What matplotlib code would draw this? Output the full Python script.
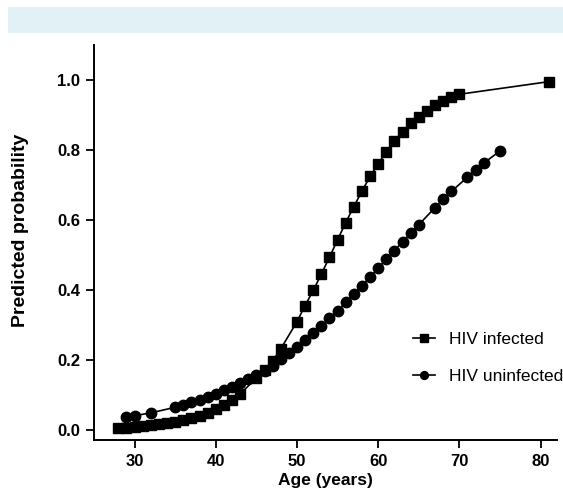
import matplotlib
matplotlib.use("Agg")
import matplotlib.pyplot as plt
from matplotlib.patches import Rectangle

plt.rcParams.update({
    "font.family": ["Liberation Sans", "DejaVu Sans"],
    "font.size": 11,
    "axes.linewidth": 1.4,
})

# HIV infected (squares)
AGE_INF = [28, 29, 30, 31, 32, 33, 34, 35, 36, 37, 38, 39, 40, 41, 42, 43,
           45, 46, 47, 48, 50, 51, 52, 53, 54, 55, 56, 57, 58, 59, 60,
           61, 62, 63, 64, 65, 66, 67, 68, 69, 70, 81]
P_INF = [0.005, 0.006, 0.008, 0.010, 0.012, 0.015, 0.018, 0.022, 0.027, 0.033,
         0.040, 0.049, 0.059, 0.071, 0.086, 0.102,
         0.148, 0.171, 0.197, 0.231, 0.309, 0.355, 0.398, 0.445, 0.493, 0.543,
         0.592, 0.638, 0.682, 0.724, 0.760, 0.795, 0.826, 0.852, 0.876, 0.895,
         0.912, 0.929, 0.940, 0.951, 0.959, 0.995]

# HIV uninfected (circles)
AGE_UNINF = [29, 30, 32, 35, 36, 37, 38, 39, 40, 41, 42, 43, 44, 45, 46, 47,
             48, 49, 50, 51, 52, 53, 54, 55, 56, 57, 58, 59, 60, 61, 62, 63,
             64, 65, 67, 68, 69, 71, 72, 73, 75]
P_UNINF = [0.036, 0.040, 0.048, 0.064, 0.071, 0.078, 0.086, 0.093, 0.102,
           0.112, 0.122, 0.133, 0.145, 0.157, 0.169, 0.183, 0.201, 0.218,
           0.237, 0.256, 0.276, 0.297, 0.318, 0.339, 0.364, 0.388, 0.412,
           0.436, 0.462, 0.488, 0.512, 0.538, 0.562, 0.586, 0.635, 0.659,
           0.681, 0.722, 0.743, 0.762, 0.797]

X_TICKS = [30, 40, 50, 60, 70, 80]
Y_TICKS = [0.0, 0.2, 0.4, 0.6, 0.8, 1.0]

fig = plt.figure(figsize=(5.63, 4.94), dpi=100)

# light blue banner at the top
fig.patches.append(Rectangle((8 / 563, 1 - 33 / 494), 1 - 8 / 563, 26 / 494,
                             transform=fig.transFigure, facecolor="#E2F1F5",
                             edgecolor="none", zorder=0))

ax = fig.add_axes([0.167, 0.109, 0.822, 0.80])

ax.plot(AGE_INF, P_INF, color="black", marker="s", markersize=7.5,
        linewidth=1.2, label="HIV infected", clip_on=False)
ax.plot(AGE_UNINF, P_UNINF, color="black", marker="o", markersize=7.5,
        linewidth=1.2, label="HIV uninfected", clip_on=False)

ax.set_xlim(25, 82)
ax.set_ylim(-0.03, 1.1)
ax.set_xticks(X_TICKS)
ax.set_yticks(Y_TICKS)
ax.set_yticklabels([f"{v:.1f}" for v in Y_TICKS])

for s in ("top", "right"):
    ax.spines[s].set_visible(False)
ax.tick_params(direction="out", length=6, width=1.3, labelsize=12, pad=4)
for lbl in ax.get_xticklabels() + ax.get_yticklabels():
    lbl.set_fontweight("bold")

ax.set_xlabel("Age (years)", fontsize=12.5, fontweight="bold", labelpad=3)
ax.set_ylabel("Predicted probability", fontsize=14, fontweight="bold")
ax.yaxis.set_label_coords(-0.14, 0.53)

ax.legend(loc="center left", bbox_to_anchor=(0.655, 0.207), frameon=False,
          fontsize=12.5, handlelength=1.3, handletextpad=0.8, labelspacing=1.25,
          markerscale=0.75)

fig.savefig("out.png", dpi=100)
